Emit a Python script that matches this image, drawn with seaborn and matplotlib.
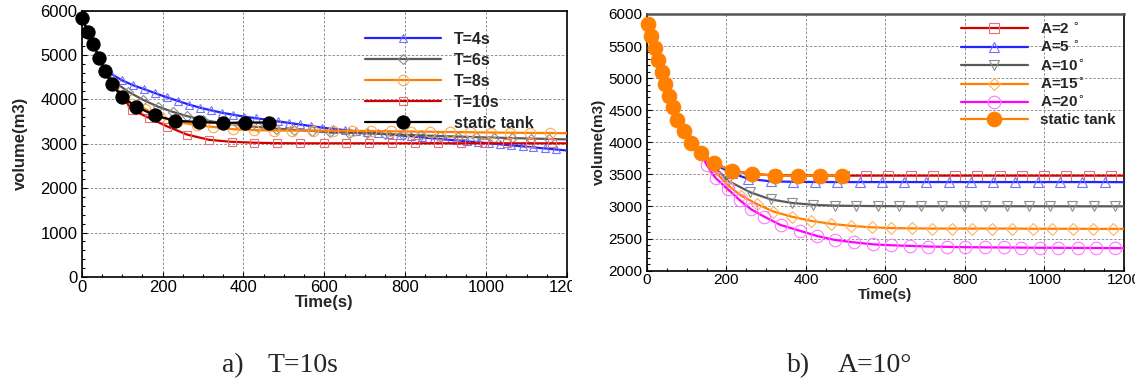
import matplotlib
matplotlib.use("Agg")
import matplotlib.pyplot as plt
from matplotlib.lines import Line2D
from matplotlib.ticker import MultipleLocator
from matplotlib.transforms import Bbox
import seaborn as sns

# ---- data ----
# panel a) : T = 10 s comparisons (left)
time_static_a = [0, 16, 29, 43, 58, 74, 99, 134, 181, 231, 291, 349, 404, 462]
vol_static_a = [5830, 5530, 5240, 4940, 4640, 4340, 4060, 3840, 3640, 3520, 3490, 3470, 3480, 3480]

t4_time = [73, 100, 127, 155, 182, 210, 237, 265, 292, 320, 347, 375, 402, 430, 457, 485, 512, 540,
           567, 595, 622, 650, 677, 705, 732, 760, 787, 815, 842, 870, 897, 925, 952, 980, 1007,
           1035, 1062, 1090, 1117, 1145, 1172, 1200]
t4_vol = [4575, 4430, 4320, 4230, 4140, 4050, 3970, 3885, 3815, 3755, 3700, 3655, 3613, 3578, 3543,
          3507, 3472, 3436, 3400, 3365, 3335, 3310, 3285, 3260, 3235, 3212, 3190, 3168, 3145, 3122,
          3100, 3078, 3055, 3035, 3012, 2990, 2965, 2943, 2920, 2897, 2873, 2850]

t6_time = [80, 115, 152, 188, 225, 260, 300, 345, 390, 435, 480, 525, 570, 615, 660, 705, 750, 795,
           840, 885, 930, 975, 1020, 1065, 1110, 1155, 1200]
t6_vol = [4400, 4175, 3990, 3840, 3720, 3625, 3540, 3470, 3420, 3380, 3345, 3315, 3290, 3270, 3250,
          3235, 3220, 3205, 3190, 3175, 3165, 3150, 3140, 3130, 3120, 3110, 3100]

t8_time = [80, 100, 125, 156, 193, 235, 284, 325, 375, 425, 476, 521, 572, 622, 668, 716, 764, 813,
           860, 911, 961, 1011, 1060, 1108, 1158, 1200]
t8_vol = [4330, 4080, 3900, 3790, 3600, 3500, 3420, 3380, 3330, 3310, 3300, 3298, 3298, 3296, 3292,
          3288, 3282, 3277, 3272, 3266, 3260, 3255, 3250, 3246, 3243, 3240]

t10_time = [80, 124, 167, 212, 260, 315, 371, 427, 483, 539, 598, 654, 710, 766, 824, 881, 938, 994,
            1051, 1108, 1163, 1200]
t10_vol = [4330, 3770, 3580, 3390, 3210, 3090, 3045, 3025, 3015, 3012, 3012, 3012, 3012, 3012, 3012,
           3012, 3012, 3012, 3012, 3012, 3012, 3012]

# panel b) : A = 10 deg comparisons (right)
time_static_b = [3, 10, 20, 28, 37, 45, 56, 65, 76, 93, 111, 135, 169, 213, 265, 322, 379, 436, 491]
vol_static_b = [5840, 5660, 5465, 5285, 5100, 4910, 4720, 4545, 4350, 4175, 3995, 3840, 3670, 3560,
                3505, 3480, 3480, 3480, 3480]

a2_time = [169, 213, 265, 322, 379, 436, 495, 551, 607, 663, 719, 775, 831, 887, 943, 999, 1055,
           1111, 1167, 1200]
a2_vol = [3670, 3560, 3505, 3485, 3482, 3480, 3480, 3480, 3480, 3480, 3480, 3480, 3480, 3480, 3480,
          3480, 3480, 3480, 3480, 3480]

a5_time = [169, 213, 255, 311, 367, 423, 479, 535, 591, 647, 703, 759, 815, 871, 927, 983, 1039,
           1095, 1151, 1200]
a5_vol = [3660, 3520, 3430, 3392, 3384, 3381, 3380, 3380, 3380, 3380, 3380, 3380, 3380, 3380, 3380,
          3380, 3380, 3380, 3380, 3378]

a10_time = [169, 204, 260, 311, 364, 418, 472, 526, 582, 635, 689, 742, 798, 851, 906, 960, 1013,
            1068, 1124, 1177, 1200]
a10_vol = [3620, 3400, 3220, 3110, 3055, 3025, 3012, 3008, 3005, 3004, 3003, 3003, 3003, 3003, 3003,
           3003, 3003, 3002, 3002, 3002, 3002]

a15_time = [169, 204, 236, 276, 318, 364, 413, 464, 514, 565, 615, 666, 717, 767, 818, 868, 919,
            970, 1020, 1071, 1122, 1172, 1200]
a15_vol = [3560, 3330, 3170, 3040, 2920, 2840, 2775, 2728, 2697, 2675, 2663, 2658, 2655, 2655, 2655,
           2655, 2655, 2652, 2652, 2652, 2650, 2650, 2650]

a20_time = [150, 173, 204, 233, 262, 295, 336, 384, 428, 473, 520, 569, 613, 662, 708, 755, 800,
            850, 897, 942, 988, 1035, 1084, 1130, 1177, 1200]
a20_vol = [3650, 3440, 3267, 3100, 2955, 2841, 2711, 2622, 2539, 2477, 2441, 2409, 2395, 2385,
           2375, 2370, 2365, 2362, 2360, 2358, 2356, 2355, 2353, 2352, 2350, 2350]

labels_a = ['T=4s', 'T=6s', 'T=8s', 'T=10s', 'static tank']
labels_b = [r'A=2$^{\,\circ}$', r'A=5$^{\,\circ}$', r'A=10$^{\circ}$', r'A=15$^{\circ}$',
            r'A=20$^{\circ}$', 'static tank']

# ---- styles ----
def style(color, marker, ms, edge, filled=False, lw=1.6):
    return dict(color=color, linewidth=lw, marker=marker, markersize=ms,
                markerfacecolor=color if filled else 'none',
                markeredgecolor=edge, markeredgewidth=0.8)

BLUE, GRAY, ORANGE, RED, MAG = '#2424ff', '#5a5a5a', '#ff8000', '#d40000', '#ff00ff'

styles_a = [style(BLUE, '^', 6, '#7272ff'),
            style(GRAY, 'D', 5, '#8c8c8c'),
            style(ORANGE, 'o', 7.5, '#ffa850'),
            style(RED, 's', 6, '#e87070'),
            style('black', 'o', 9.5, 'black', filled=True)]
styles_b = [style(RED, 's', 7.5, '#e87070'),
            style(BLUE, '^', 7.5, '#7272ff'),
            style(GRAY, 'v', 7.5, '#8c8c8c'),
            style(ORANGE, 'D', 6.5, '#ffb060'),
            style(MAG, 'o', 9, '#ff78ff'),
            style(ORANGE, 'o', 10.5, ORANGE, filled=True)]

sns.set_theme(style='ticks')
plt.rcParams['font.family'] = ['Liberation Sans', 'DejaVu Sans']


def draw(ax, t, v, st, static=False):
    kw = dict(st)
    if not static:
        kw['markevery'] = slice(0, len(t) - 1)
    sns.lineplot(x=t, y=v, ax=ax, sort=False, estimator=None, clip_on=not static,
                 zorder=5 if static else 3, **kw)


def dress(ax, ymin, ymax, ymaj, ymin_step, fs):
    ax.set_xlim(0, 1200)
    ax.set_ylim(ymin, ymax)
    ax.xaxis.set_major_locator(MultipleLocator(200))
    ax.xaxis.set_minor_locator(MultipleLocator(50))
    ax.yaxis.set_major_locator(MultipleLocator(ymaj))
    ax.yaxis.set_minor_locator(MultipleLocator(ymin_step))
    ax.grid(True, which='major', color='#808080', linestyle=(0, (3, 2)), linewidth=0.6)
    ax.set_axisbelow(True)
    ax.tick_params(which='both', direction='in', top=False, right=False,
                   width=0.8, colors='black', labelsize=fs)
    ax.tick_params(which='major', length=3.6)
    ax.tick_params(which='minor', length=2)
    ax.tick_params(axis='x', pad=2)
    ax.tick_params(axis='y', pad=3.2)
    for s in ax.spines.values():
        s.set_visible(True)
        s.set_color('black')
        s.set_linewidth(1.2)
    ax.set_xlabel('Time(s)', fontweight='bold', fontsize=fs, va='center')
    ax.set_ylabel('volume(m3)', fontweight='bold', fontsize=fs, va='center', ha='center')


fig = plt.figure(figsize=(11.35, 3.83), dpi=100)
ax1 = fig.add_axes([0.0720, 0.2768, 0.4276, 0.6953])
ax2 = fig.add_axes([0.5700, 0.2935, 0.4203, 0.6700])

# left panel
early_t, early_v = time_static_a[:5], vol_static_a[:5]
draw(ax1, early_t + t4_time, early_v + t4_vol, styles_a[0])
draw(ax1, early_t + t6_time, early_v + t6_vol, styles_a[1])
draw(ax1, early_t + t8_time, early_v + t8_vol, styles_a[2])
draw(ax1, early_t + t10_time, early_v + t10_vol, styles_a[3])
draw(ax1, time_static_a, vol_static_a, styles_a[4], static=True)
dress(ax1, 0, 6000, 1000, 200, 12)
ax1.xaxis.set_label_coords(0.499, -0.094)
ax1.yaxis.set_label_coords(-0.127, 0.5)

# right panel
early_t, early_v = time_static_b[:12], vol_static_b[:12]
draw(ax2, early_t + a2_time, early_v + a2_vol, styles_b[0])
draw(ax2, early_t + a5_time, early_v + a5_vol, styles_b[1])
draw(ax2, early_t + a10_time, early_v + a10_vol, styles_b[2])
draw(ax2, early_t + a15_time, early_v + a15_vol, styles_b[3])
draw(ax2, early_t + a20_time, early_v + a20_vol, styles_b[4])
draw(ax2, time_static_b, vol_static_b, styles_b[5], static=True)
dress(ax2, 2000, 6000, 500, 100, 11)
ax2.xaxis.set_label_coords(0.499, -0.095)
ax2.yaxis.set_label_coords(-0.1006, 0.5)
ax2.spines['top'].set_color('#555555')
ax2.spines['top'].set_linewidth(1.8)

# legends
h1 = [Line2D([0], [0], **s) for s in styles_a]
ax1.legend(h1, labels_a, loc='upper left', bbox_to_anchor=(0.584, 0.921), frameon=False,
           borderpad=0, borderaxespad=0, handlelength=4.76, handletextpad=0.8,
           labelspacing=0.38, numpoints=1, prop={'weight': 'bold', 'size': 11.5})
h2 = [Line2D([0], [0], **s) for s in styles_b]
ax2.legend(h2, labels_b, loc='upper left', bbox_to_anchor=(0.658, 0.972), frameon=False,
           borderpad=0, borderaxespad=0, handlelength=4.4, handletextpad=0.78,
           labelspacing=0.2, numpoints=1, prop={'weight': 'bold', 'size': 11})

# captions
cap = dict(family='Liberation Serif', size=20, va='baseline')
fig.text(0.1956, 0.0295, 'a)', **cap)
fig.text(0.2361, 0.0295, 'T=10s', **cap)
fig.text(0.6934, 0.0295, 'b)', **cap)
fig.text(0.7383, 0.0295, 'A=10°', **cap)

# the left picture was cropped just after "120"
fig.canvas.draw()
for lbl in ax1.get_xticklabels():
    if lbl.get_text() == '1200':
        lbl.set_clip_box(Bbox.from_extents(0, 0, 572, 383))
        lbl.set_clip_on(True)

fig.savefig('out.png', dpi=100)
